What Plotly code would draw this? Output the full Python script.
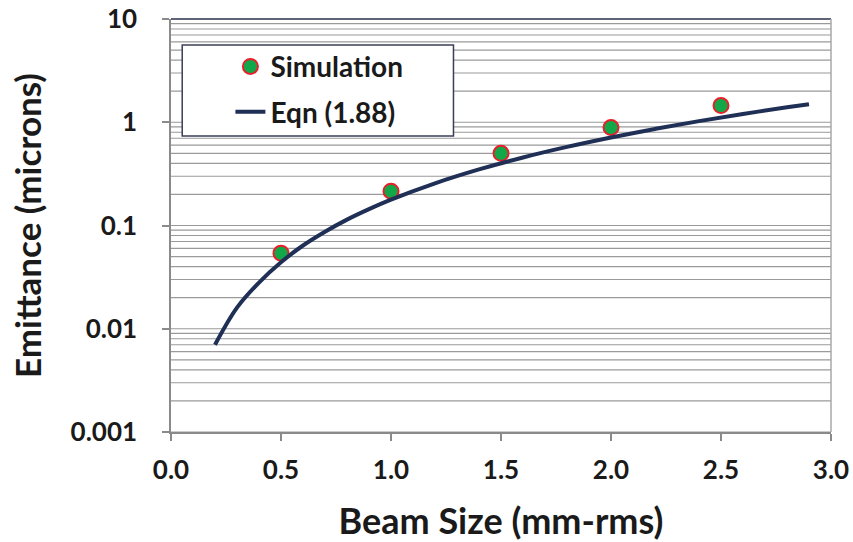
import plotly.graph_objects as go

# Simulated emittance at each beam size
sim_size = [0.5, 1.0, 1.5, 2.0, 2.5]
sim_emit = [0.054, 0.215, 0.50, 0.89, 1.45]

# Equation (1.88) curve values
eqn_size = [0.2, 0.3, 0.4, 0.5, 0.6, 0.7, 0.8, 0.9, 1.0, 1.2, 1.4, 1.6, 1.8,
            2.0, 2.2, 2.4, 2.6, 2.8, 2.9]
eqn_emit = [0.007, 0.016, 0.028, 0.044, 0.064, 0.087, 0.114, 0.144, 0.178,
            0.256, 0.349, 0.456, 0.577, 0.712, 0.862, 1.025, 1.203, 1.395, 1.497]

x_ticks = [0.0, 0.5, 1.0, 1.5, 2.0, 2.5, 3.0]
x_tick_text = ["0.0", "0.5", "1.0", "1.5", "2.0", "2.5", "3.0"]
y_ticks = [0.001, 0.01, 0.1, 1, 10]
y_tick_text = ["0.001", "0.01", "0.1", "1", "10"]

# Horizontal grid lines at every log step (1..9 in each decade)
grid_vals = [m * 10 ** e for e in range(-3, 1) for m in range(1, 10)] + [10]

FONT = "Lato"
TXT = "#1a1a1a"

fig = go.Figure()

fig.add_trace(go.Scatter(
    x=sim_size, y=sim_emit, mode="markers", name="Simulation", legendgroup="a",
    marker=dict(size=15, color="#12A84A", line=dict(color="#E8202A", width=2)),
))
fig.add_trace(go.Scatter(
    x=eqn_size, y=eqn_emit, mode="lines", name="Eqn (1.88)", legendgroup="b",
    line=dict(color="#1F2F55", width=4), line_shape="spline",
))

shapes = []
for v in grid_vals:
    shapes.append(dict(type="line", xref="paper", x0=0, x1=1, yref="y", y0=v, y1=v,
                       line=dict(color="#9a9a9a", width=1.2), layer="below"))
# frame: top and right borders
shapes.append(dict(type="line", xref="paper", x0=0, x1=1, yref="paper", y0=1, y1=1,
                   line=dict(color="#5f6478", width=1.8)))
shapes.append(dict(type="line", xref="paper", x0=1, x1=1, yref="paper", y0=0, y1=1,
                   line=dict(color="#a8a8a8", width=1.5)))
# legend box
shapes.append(dict(type="rect", xref="paper", yref="paper",
                   x0=0.017, x1=0.428, y0=0.717, y1=0.937,
                   fillcolor="white", line=dict(color="#3a3f55", width=1.5),
                   layer="above"))

fig.update_layout(
    width=853, height=542,
    margin=dict(l=171, r=22, t=19, b=110),
    paper_bgcolor="white", plot_bgcolor="white",
    shapes=shapes,
    showlegend=True,
    legend=dict(
        x=0.09, y=0.945, xanchor="left", yanchor="top",
        bgcolor="rgba(0,0,0,0)", borderwidth=0,
        font=dict(family=FONT, size=28, color=TXT, weight="bold"),
        tracegroupgap=6,
    ),
    xaxis=dict(
        range=[0, 3.0], tickvals=x_ticks, ticktext=x_tick_text,
        showgrid=False, zeroline=False, automargin=False,
        showline=True, linecolor="#8a8a8a", linewidth=1.5,
        ticks="outside", ticklen=7, tickcolor="#8a8a8a", tickwidth=1.5,
        ticklabelstandoff=7,
        tickfont=dict(family=FONT, size=26, color=TXT, weight="bold"),
        title=dict(text="Beam Size (mm-rms)", standoff=25,
                   font=dict(family=FONT, size=36, color=TXT, weight="bold")),
    ),
    yaxis=dict(
        type="log", range=[-3, 1], tickvals=y_ticks, ticktext=y_tick_text,
        showgrid=False, zeroline=False, automargin=False,
        showline=True, linecolor="#8a8a8a", linewidth=1.5,
        ticks="outside", ticklen=7, tickcolor="#8a8a8a", tickwidth=1.5,
        ticklabelstandoff=20,
        tickfont=dict(family=FONT, size=26, color=TXT, weight="bold"),
        title=dict(text="Emittance (microns)", standoff=18,
                   font=dict(family=FONT, size=35, color=TXT, weight="bold")),
    ),
)

fig.write_html("out.html")
